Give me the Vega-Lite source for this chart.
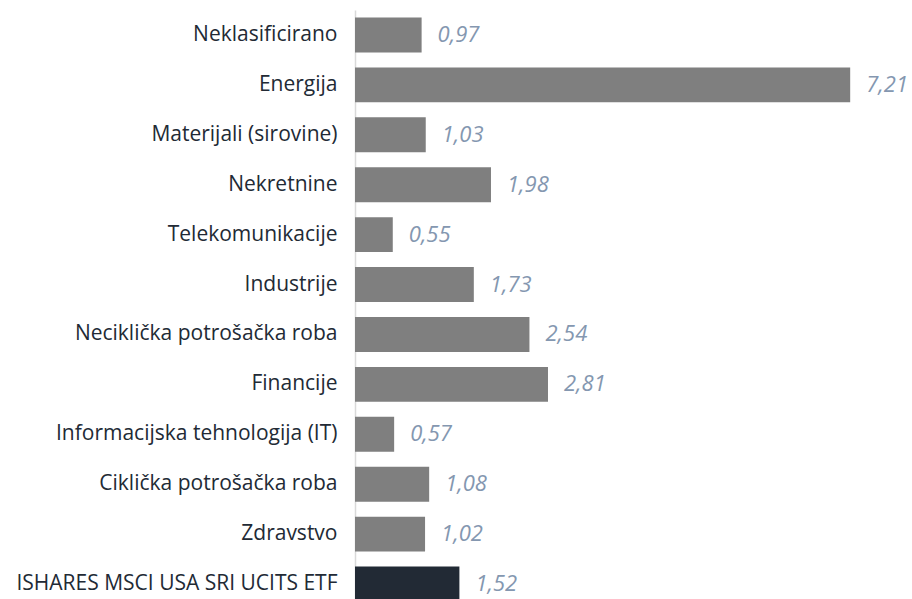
{
  "$schema": "https://vega.github.io/schema/vega-lite/v6.json",
  "autosize": {"type": "none"},
  "width": 557,
  "height": 599,
  "padding": {"left": 355, "top": 10, "right": 0, "bottom": 0},
  "background": "white",
  "config": {"view": {"stroke": null}},
  "data": {
    "values": [
      {"category": "Neklasificirano", "value": 0.97, "label": "0,97", "highlight": "no"},
      {"category": "Energija", "value": 7.21, "label": "7,21", "highlight": "no"},
      {"category": "Materijali (sirovine)", "value": 1.03, "label": "1,03", "highlight": "no"},
      {"category": "Nekretnine", "value": 1.98, "label": "1,98", "highlight": "no"},
      {"category": "Telekomunikacije", "value": 0.55, "label": "0,55", "highlight": "no"},
      {"category": "Industrije", "value": 1.73, "label": "1,73", "highlight": "no"},
      {"category": "Neciklička potrošačka roba", "value": 2.54, "label": "2,54", "highlight": "no"},
      {"category": "Financije", "value": 2.81, "label": "2,81", "highlight": "no"},
      {"category": "Informacijska tehnologija (IT)", "value": 0.57, "label": "0,57", "highlight": "no"},
      {"category": "Ciklička potrošačka roba", "value": 1.08, "label": "1,08", "highlight": "no"},
      {"category": "Zdravstvo", "value": 1.02, "label": "1,02", "highlight": "no"},
      {"category": "ISHARES MSCI USA SRI UCITS ETF", "value": 1.52, "label": "1,52", "highlight": "yes"}
    ]
  },
  "encoding": {
    "y": {
      "field": "category",
      "type": "nominal",
      "sort": null,
      "scale": {"paddingInner": 0.3, "paddingOuter": 0.15},
      "axis": {
        "title": null,
        "ticks": false,
        "domainColor": "#d9d9d9",
        "domainWidth": 1.5,
        "labelFont": "Open Sans",
        "labelFontSize": 21,
        "labelFontWeight": "normal",
        "labelColor": "#222a35",
        "labelPadding": 18,
        "labelLimit": 400
      }
    },
    "x": {
      "field": "value",
      "type": "quantitative",
      "scale": {"domain": [0, 8.11], "nice": false},
      "axis": null
    }
  },
  "layer": [
    {
      "mark": {"type": "bar"},
      "encoding": {
        "color": {
          "field": "highlight",
          "type": "nominal",
          "scale": {"domain": ["no", "yes"], "range": ["#7f7f7f", "#222a35"]},
          "legend": null
        }
      }
    },
    {
      "mark": {
        "type": "text",
        "align": "left",
        "dx": 16,
        "font": "Open Sans",
        "fontSize": 22,
        "fontStyle": "italic",
        "color": "#8497b0"
      },
      "encoding": {"text": {"field": "label"}}
    }
  ]
}
